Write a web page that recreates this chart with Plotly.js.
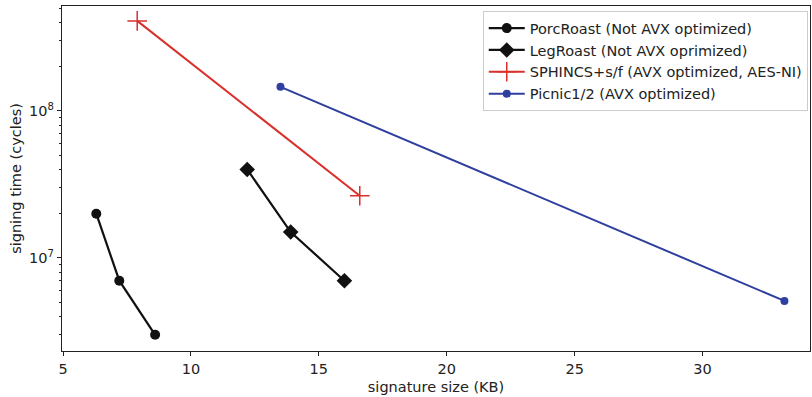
<!DOCTYPE html>
<html><head><meta charset="utf-8">
<script src="https://cdn.plot.ly/plotly-3.0.1.min.js"></script>
<style>body{margin:0;background:#fff}#c{width:812px;height:397px}</style>
</head><body><div id="c"></div>
<script>
const porcX = [6.3, 7.2, 8.6];
const porcY = [2.0e7, 7.0e6, 3.0e6];
const legX = [12.2, 13.9, 16.0];
const legY = [4.0e7, 1.5e7, 7.0e6];
const sphX = [7.9, 16.6];
const sphY = [4.1e8, 2.65e7];
const picX = [13.5, 33.2];
const picY = [1.46e8, 5.1e6];
const xTicks = [5, 10, 15, 20, 25, 30];
const yMajor = [1e7, 1e8];
const yMajorText = ['10<sup>7</sup>', '10<sup>8</sup>'];
const yMinor = [3e6,4e6,5e6,6e6,7e6,8e6,9e6,2e7,3e7,4e7,5e7,6e7,7e7,8e7,9e7,2e8,3e8,4e8,5e8];

const font = {family: 'DejaVu Sans', size: 14.5, color: '#222'};
const traces = [
  {x: porcX, y: porcY, name: 'PorcRoast (Not AVX optimized)', mode: 'lines+markers',
   line: {color: '#111', width: 2.2}, marker: {symbol: 'circle', size: 10, color: '#111'}},
  {x: legX, y: legY, name: 'LegRoast (Not AVX oprimized)', mode: 'lines+markers',
   line: {color: '#111', width: 2.2}, marker: {symbol: 'diamond', size: 12, color: '#111'}},
  {x: sphX, y: sphY, name: 'SPHINCS+s/f (AVX optimized, AES-NI)', mode: 'lines+markers',
   line: {color: '#d9302c', width: 2}, marker: {symbol: 'cross-thin-open', size: 14, line: {color: '#d9302c', width: 1.5}}},
  {x: picX, y: picY, name: 'Picnic1/2 (AVX optimized)', mode: 'lines+markers',
   line: {color: '#2f3f9f', width: 2}, marker: {symbol: 'circle', size: 8, color: '#2f3f9f'}}
];
const layout = {
  width: 812, height: 397,
  margin: {l: 62, r: 2, t: 6, b: 46},
  paper_bgcolor: '#fff', plot_bgcolor: '#fff',
  font: font,
  showlegend: true,
  legend: {x: 0.997, y: 0.985, xanchor: 'right', yanchor: 'top', bgcolor: '#fff',
           bordercolor: '#ccc', borderwidth: 1, font: {family: 'DejaVu Sans', size: 14.5, color: '#222'},
           tracegroupgap: 0, itemwidth: 36},
  xaxis: {range: [4.96, 34.2], tickvals: xTicks, ticks: 'outside', ticklen: 4, tickcolor: '#222',
          showgrid: false, zeroline: false, showline: true, linecolor: '#222', linewidth: 1.2, mirror: true,
          title: {text: 'signature size (KB)', font: font, standoff: 6}},
  yaxis: {type: 'log', range: [6.367, 8.714], tickmode: 'array', tickvals: yMajor, ticktext: yMajorText,
          ticks: 'outside', ticklen: 4, tickcolor: '#222', showgrid: false, zeroline: false,
          showline: true, linecolor: '#222', linewidth: 1.2, mirror: true,
          minor: {tickmode: 'array', tickvals: yMinor, ticks: 'outside', ticklen: 2, tickcolor: '#222', showgrid: false},
          title: {text: 'signing time (cycles)', font: font, standoff: 4}}
};
Plotly.newPlot('c', traces, layout, {displayModeBar: false, staticPlot: true});
</script></body></html>
